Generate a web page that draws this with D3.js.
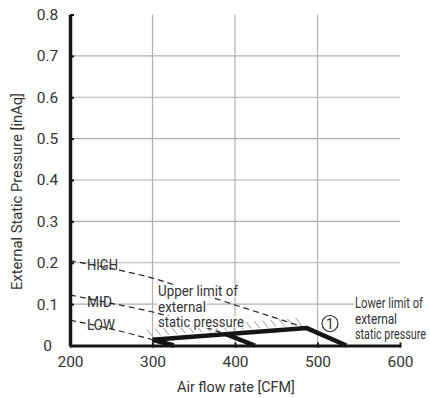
<!DOCTYPE html>
<html>
<head>
<meta charset="utf-8">
<script src="https://cdn.jsdelivr.net/npm/d3@7"></script>
<style>
  html, body { margin: 0; padding: 0; background: #fff; }
  svg { display: block; }
  text { font-family: Roboto, "Noto Sans", sans-serif; fill: #333; }
</style>
</head>
<body>
<svg id="chart" width="430" height="398"></svg>
<script>
// ---- data ----
const xTicks = [200, 300, 400, 500, 600];
const yTicks = [0, 0.1, 0.2, 0.3, 0.4, 0.5, 0.6, 0.7, 0.8];
const yTickLabels = ["0", "0.1", "0.2", "0.3", "0.4", "0.5", "0.6", "0.7", "0.8"];

// fan curves (dashed part, above the usable range)
const highX = [200, 250, 300, 350, 400, 450, 487];
const highY = [0.205, 0.186, 0.163, 0.131, 0.098, 0.066, 0.042];
const midX  = [200, 250, 300, 350, 388];
const midY  = [0.122, 0.102, 0.081, 0.053, 0.028];
const lowX  = [200, 250, 300];
const lowY  = [0.061, 0.040, 0.014];

// upper limit of external static pressure (solid)
const upperX = [300, 487];
const upperY = [0.014, 0.042];
// solid parts of fan curves below the limit
const highDropX = [487, 535], highDropY = [0.042, 0];
const midDropX  = [388, 424], midDropY  = [0.028, 0];
const lowDropX  = [300, 326], lowDropY  = [0.014, 0];

const curveLabels = ["HIGH", "MID", "LOW"];
const upperLabel = ["Upper limit of", "external", "static pressure"];
const lowerLabel = ["Lower limit of", "external", "static pressure"];

// ---- chart ----
const svg = d3.select("#chart");
const x = d3.scaleLinear().domain([200, 600]).range([70, 400]);
const y = d3.scaleLinear().domain([0, 0.8]).range([345.5, 14.5]);

const zip = (xs, ys) => xs.map((v, i) => [v, ys[i]]);
const line = d3.line().x(d => x(d[0])).y(d => y(d[1]));
const smooth = d3.line().x(d => x(d[0])).y(d => y(d[1])).curve(d3.curveMonotoneX);

// text fitted horizontally to a target width (condensed look)
function fitText(parent, str, x0, y0, size, width, anchor) {
  const t = parent.append("text").attr("font-size", size).text(str);
  const n = t.node().getComputedTextLength();
  const k = width / n;
  let tx = x0;
  if (anchor === "middle") tx = x0 - width / 2;
  t.attr("transform", `translate(${tx},${y0}) scale(${k},1)`);
  return t;
}

// grid
const grid = svg.append("g").attr("stroke", "#b0b0b0").attr("stroke-width", 1.2);
[300, 400, 500].forEach(v => grid.append("line")
  .attr("x1", x(v)).attr("x2", x(v)).attr("y1", y(0.8)).attr("y2", y(0)));
yTicks.filter(v => v > 0 && v < 0.8).forEach(v => grid.append("line")
  .attr("x1", x(200)).attr("x2", x(600)).attr("y1", y(v)).attr("y2", y(v)));

// hatch above upper limit
const upperFn = d3.scaleLinear().domain(upperX).range(upperY);
const hatch = svg.append("g").attr("stroke", "#9a9a9a").attr("stroke-width", 1);
for (let c = 300; c <= 485; c += 10) {
  const px = x(c), py = y(upperFn(c));
  hatch.append("line").attr("x1", px - 5.5).attr("y1", py - 10.5).attr("x2", px).attr("y2", py - 3.5);
}

// dashed fan curves
const dashed = svg.append("g").attr("fill", "none").attr("stroke", "#222")
  .attr("stroke-width", 1.2).attr("stroke-dasharray", "6,4");
[zip(highX, highY), zip(midX, midY), zip(lowX, lowY)].forEach(d =>
  dashed.append("path").attr("d", smooth(d)));

// text blocks with white backing
function block(lines, x0, baselines, size, widths) {
  const g = svg.append("g");
  const bg = g.append("g");
  lines.forEach((t, i) => {
    fitText(g, t, x0, baselines[i], size, widths[i]);
    bg.append("rect").attr("x", x0 - 1).attr("y", baselines[i] - size * 0.74)
      .attr("width", widths[i] + 2).attr("height", size * 0.74 + 1).attr("fill", "#fff");
  });
}
block(upperLabel, 158, [296, 311.5, 327], 15, [80, 48, 86]);
block(lowerLabel, 355, [308, 323.5, 339], 14.5, [68, 42, 71]);

// HIGH / MID / LOW labels
const lbl = svg.append("g");
fitText(lbl, curveLabels[0], 87, 270, 14.5, 31);
fitText(lbl, curveLabels[1], 87, 306.5, 14.5, 25);
fitText(lbl, curveLabels[2], 87, 330, 14.5, 28);

// circled 1
svg.append("circle").attr("cx", 330).attr("cy", 323.5).attr("r", 8)
  .attr("fill", "#fff").attr("stroke", "#222").attr("stroke-width", 1.1);
svg.append("text").attr("x", 330).attr("y", 328.5).attr("text-anchor", "middle")
  .attr("font-size", 14).text("1");

// thick solid lines
const thick = svg.append("g").attr("fill", "none").attr("stroke", "#151515")
  .attr("stroke-width", 4.5).attr("stroke-linejoin", "miter");
thick.append("path").attr("d", line(zip(upperX, upperY).concat(zip(highDropX, highDropY).slice(1))));
thick.append("path").attr("d", line(zip(midDropX, midDropY)));
thick.append("path").attr("d", line(zip(lowDropX, lowDropY)));

// axes
const xAxis = svg.append("g").attr("transform", `translate(0,${y(0)})`)
  .call(d3.axisBottom(x).tickValues(xTicks).tickSizeInner(-4).tickSizeOuter(0).tickPadding(10).tickFormat(d3.format("d")));
xAxis.select(".domain").attr("stroke", "#151515").attr("stroke-width", 3);
xAxis.selectAll(".tick line").attr("stroke", "#151515").attr("stroke-width", 2).attr("y2", -3).attr("y1", 2);
xAxis.selectAll(".tick text").attr("font-size", 15.5).attr("fill", "#333")
  .attr("font-family", "Roboto, sans-serif");

const yAxis = svg.append("g").attr("transform", `translate(${x(200)},0)`)
  .call(d3.axisLeft(y).tickValues(yTicks).tickSizeInner(-4).tickSizeOuter(0)
    .tickFormat((d, i) => yTickLabels[i]));
yAxis.select(".domain").attr("stroke", "#151515").attr("stroke-width", 3.5);
yAxis.selectAll(".tick line").attr("stroke", "#151515").attr("stroke-width", 2);
yAxis.selectAll(".tick text").attr("font-size", 15.5).attr("fill", "#333")
  .attr("font-family", "Roboto, sans-serif")
  .attr("text-anchor", "middle").attr("x", -22.5);

// axis titles
fitText(svg, "Air flow rate [CFM]", 236, 392, 15, 118, "middle");
const yt = svg.append("g").attr("transform", "translate(21.5,191.5) rotate(-90)");
fitText(yt, "External Static Pressure [inAq]", 0, 0, 15, 197, "middle");
</script>
</body>
</html>
